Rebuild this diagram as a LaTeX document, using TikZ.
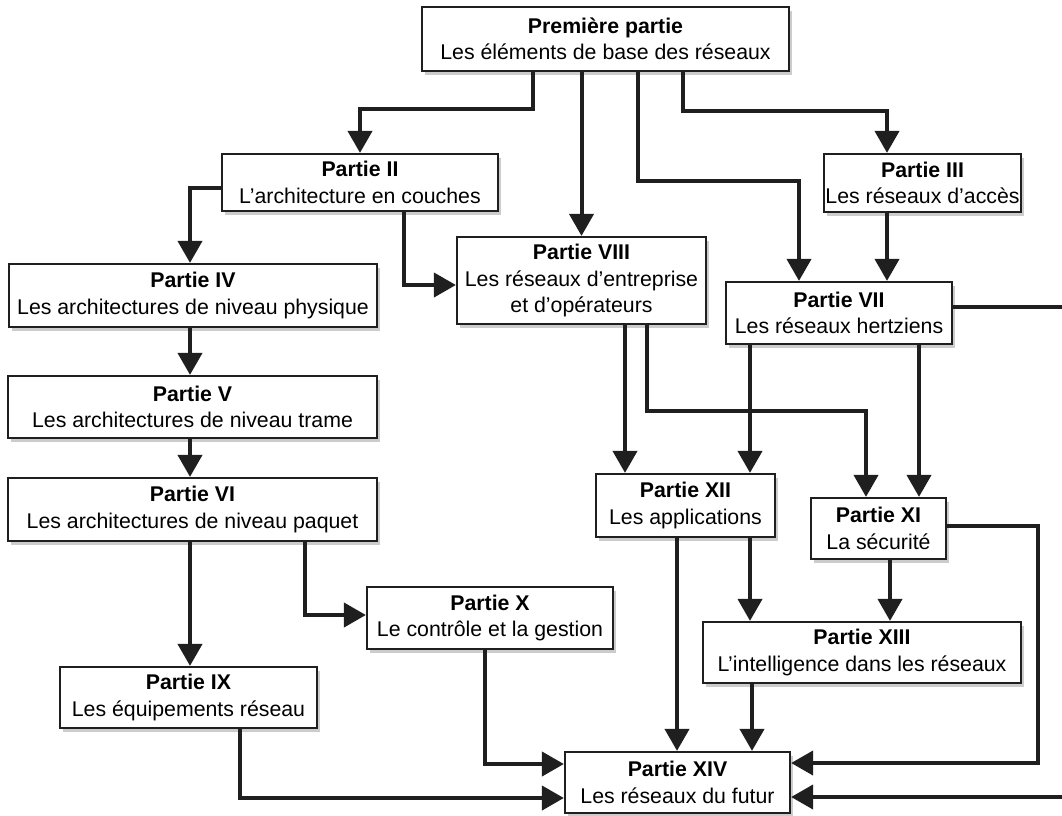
\documentclass[tikz,border=0pt]{standalone}
\usepackage{fontspec}
\setmainfont{Liberation Sans}
\usetikzlibrary{arrows.meta,shadows}
\begin{document}
\begin{tikzpicture}[x=1pt,y=-1pt,
  box/.style={draw=black!88, line width=2.2pt, fill=white, align=center, inner sep=0pt,
    font=\fontsize{21.3}{26.5}\selectfont,
    drop shadow={shadow xshift=3pt, shadow yshift=-4pt, opacity=0.2, fill=black}},
  arr/.style={draw=black!88, line width=4pt, -{Triangle[width=24pt,length=22pt]}}
]
\useasboundingbox (0,0) rectangle (1062,815);
\clip (0,0) rectangle (1062,815);

% boxes
\node[box, minimum width=367pt, minimum height=64pt] (P1) at (605.5,39) {\textbf{Première partie}\\Les éléments de base des réseaux};
\node[box, minimum width=276pt, minimum height=57pt] (II) at (360,182.5) {\textbf{Partie II}\\L’architecture en couches};
\node[box, minimum width=197pt, minimum height=58pt] (III) at (922.5,183) {\textbf{Partie III}\\Les réseaux d’accès};
\node[box, minimum width=249pt, minimum height=87pt] (VIII) at (581.5,280.5) {\textbf{Partie VIII}\\Les réseaux d’entreprise\\et d’opérateurs};
\node[box, minimum width=368pt, minimum height=63pt] (IV) at (193,295.5) {\textbf{Partie IV}\\Les architectures de niveau physique};
\node[box, minimum width=226pt, minimum height=62pt] (VII) at (839,313) {\textbf{Partie VII}\\Les réseaux hertziens};
\node[box, minimum width=369pt, minimum height=62pt] (V) at (192.5,407) {\textbf{Partie V}\\Les architectures de niveau trame};
\node[box, minimum width=369pt, minimum height=63pt] (VI) at (192.5,509.5) {\textbf{Partie VI}\\Les architectures de niveau paquet};
\node[box, minimum width=179pt, minimum height=63pt] (XII) at (685.5,505.5) {\textbf{Partie XII}\\Les applications};
\node[box, minimum width=135pt, minimum height=61pt] (XI) at (878.5,528.5) {\textbf{Partie XI}\\La sécurité};
\node[box, minimum width=246pt, minimum height=62pt] (X) at (490,618) {\textbf{Partie X}\\Le contrôle et la gestion};
\node[box, minimum width=318pt, minimum height=61pt] (XIII) at (862,652.5) {\textbf{Partie XIII}\\L’intelligence dans les réseaux};
\node[box, minimum width=257pt, minimum height=61pt] (IX) at (188.5,697.5) {\textbf{Partie IX}\\Les équipements réseau};
\node[box, minimum width=225pt, minimum height=61pt] (XIV) at (677.5,782.5) {\textbf{Partie XIV}\\Les réseaux du futur};

% connectors from Premiere partie
\coordinate (a1) at ([xshift=-72.5pt]P1.south);
\draw[arr] (a1) -- ++(0,37) -| (II.north);
\draw[arr] (VIII.north |- P1.south) -- (VIII.north);
\coordinate (a3) at ([xshift=32.5pt]P1.south);
\coordinate (a3e) at ([xshift=-40pt]VII.north);
\draw[arr] (a3) -- ++(0,109) -| (a3e);
\coordinate (a4) at ([xshift=77.5pt]P1.south);
\coordinate (a4e) at ([xshift=-35.5pt]III.north);
\draw[arr] (a4) -- ++(0,39) -| (a4e);
\coordinate (b1) at ([xshift=-35.5pt]III.south);
\draw[arr] (b1) -- (b1 |- VII.north);

% from II
\coordinate (c1) at ([yshift=-5.5pt]II.west);
\coordinate (c1e) at ([xshift=-3pt]IV.north);
\draw[arr] (c1) -| (c1e);
\coordinate (c2) at ([xshift=44pt]II.south);
\coordinate (c2e) at ([yshift=-4.5pt]VIII.west);
\draw[arr] (c2) |- (c2e);

% left column
\draw[arr] ([xshift=-3pt]IV.south) -- ([xshift=-2.5pt]V.north);
\draw[arr] ([xshift=-2.5pt]V.south) -- ([xshift=-2.5pt]VI.north);
\draw[arr] ([xshift=-2.5pt]VI.south) -- ([xshift=1.5pt]IX.north);
\coordinate (c3) at ([xshift=112.5pt]VI.south);
\coordinate (c3e) at ([yshift=3pt]X.west);
\draw[arr] (c3) |- (c3e);
\coordinate (c4) at ([xshift=-5pt]X.south);
\coordinate (c4e) at ([yshift=18.5pt]XIV.west);
\draw[arr] (c4) |- (c4e);
\coordinate (c5) at ([xshift=51.5pt]IX.south);
\coordinate (c5e) at ([yshift=-15.5pt]XIV.west);
\draw[arr] (c5) |- (c5e);

% from VIII and VII
\coordinate (d1) at ([xshift=43.5pt]VIII.south);
\draw[arr] (d1) -- (d1 |- XII.north);
\coordinate (d2) at ([xshift=65.5pt]VIII.south);
\coordinate (d2e) at ([xshift=-12.5pt]XI.north);
\draw[arr] (d2) -- ++(0,86) -| (d2e);
\coordinate (d3) at ([xshift=-89pt]VII.south);
\draw[arr] (d3) -- (d3 |- XII.north);
\coordinate (d4) at ([xshift=80pt]VII.south);
\draw[arr] (d4) -- (d4 |- XI.north);

% lower right
\coordinate (e1) at ([xshift=-8.5pt]XII.south);
\draw[arr] (e1) -- (e1 |- XIV.north);
\coordinate (e2) at ([xshift=64.5pt]XII.south);
\draw[arr] (e2) -- (e2 |- XIII.north);
\coordinate (e3) at ([xshift=11.5pt]XI.south);
\draw[arr] (e3) -- (e3 |- XIII.north);
\coordinate (e4) at ([xshift=-110pt]XIII.south);
\draw[arr] (e4) -- (e4 |- XIV.north);
\coordinate (f1) at ([yshift=2.5pt]XI.east);
\coordinate (f1e) at ([yshift=19.5pt]XIV.east);
\draw[arr] (f1) -- ++(91,0) |- (f1e);
\coordinate (g1) at ([yshift=6pt]VII.east);
\coordinate (out1) at (1085,307);
\coordinate (g1e) at ([yshift=-14.5pt]XIV.east);
\draw[arr] (g1) -- (out1) |- (g1e);
\end{tikzpicture}
\end{document}
